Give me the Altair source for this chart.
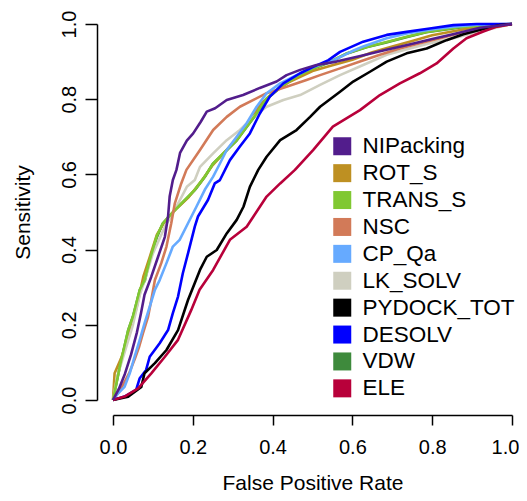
import altair as alt
import pandas as pd

METHODS = ["NIPacking", "ROT_S", "TRANS_S", "NSC", "CP_Qa", "LK_SOLV",
           "PYDOCK_TOT", "DESOLV", "VDW", "ELE"]
COLORS = ["#521D8C", "#BE9022", "#80C832", "#D27A58", "#66AAFF", "#CFCFC0",
          "#000000", "#0000FF", "#3E8A3C", "#B8003A"]
# drawing order (bottom -> top)
DRAW_ORDER = ["VDW", "ROT_S", "LK_SOLV", "TRANS_S", "NSC", "CP_Qa",
              "DESOLV", "PYDOCK_TOT", "ELE", "NIPacking"]

NIPACKING_FPR = [0, .015, .03, .045, .06, .07, .079, .096, .113, .130, .138, .142, .150, .159, .168, .185, .201, .22, .235, .256, .285, .326, .368, .41, .435, .469, .51, .56, .62, .68, .74, .80, .86, .92, 1]
NIPACKING_SENS = [0, .03, .07, .12, .18, .23, .28, .328, .381, .434, .488, .541, .585, .612, .657, .69, .709, .74, .767, .776, .798, .811, .83, .847, .864, .878, .891, .90, .915, .93, .945, .96, .975, .99, 1]

ROT_S_FPR = [0, .004, .02, .04, .06, .076, .092, .11, .13, .16, .19, .22, .25, .285, .31, .335, .368, .40, .44, .50, .55, .6, .65, .7, .75, .8, .85, .9, 1]
ROT_S_SENS = [0, .071, .11, .17, .25, .328, .38, .44, .475, .51, .54, .58, .625, .665, .695, .73, .785, .815, .845, .875, .89, .905, .925, .94, .955, .97, .98, .99, 1]

TRANS_S_FPR = [0, .017, .038, .05, .067, .079, .092, .109, .125, .155, .18, .205, .23, .251, .285, .31, .335, .36, .385, .419, .46, .502, .544, .586, .636, .686, .736, .786, .87, 1]
TRANS_S_SENS = [0, .089, .186, .222, .293, .319, .372, .434, .47, .505, .532, .559, .594, .629, .665, .691, .727, .762, .802, .833, .86, .882, .90, .922, .939, .952, .966, .979, .992, 1]

NSC_FPR = [0, .02, .04, .055, .065, .075, .088, .096, .105, .121, .134, .146, .155, .171, .184, .218, .251, .285, .318, .352, .385, .435, .485, .519, .569, .619, .669, .719, .769, .82, .87, .91, 1]
NSC_SENS = [0, .03, .07, .11, .14, .177, .222, .266, .319, .364, .408, .47, .523, .576, .612, .665, .718, .753, .78, .798, .816, .833, .851, .864, .882, .90, .918, .935, .949, .962, .976, .984, 1]

CP_QA_FPR = [0, .013, .029, .042, .054, .067, .079, .092, .105, .117, .134, .15, .167, .188, .209, .23, .251, .268, .285, .31, .335, .36, .385, .419, .46, .502, .55, .6, .627, .686, .736, .794, .853, .912, 1]
CP_QA_SENS = [0, .018, .035, .071, .115, .16, .204, .248, .293, .319, .364, .408, .426, .47, .514, .559, .594, .629, .665, .70, .736, .78, .816, .842, .864, .886, .902, .928, .94, .962, .975, .985, .993, .998, 1]

LK_SOLV_FPR = [0, .01, .03, .05, .067, .08, .10, .13, .15, .185, .205, .218, .251, .285, .318, .352, .385, .427, .469, .502, .519, .569, .627, .686, .744, .794, .853, .903, 1]
LK_SOLV_SENS = [0, .06, .13, .2, .279, .32, .39, .461, .496, .567, .585, .62, .656, .691, .718, .753, .78, .798, .811, .829, .838, .864, .891, .918, .935, .949, .962, .976, 1]

PYDOCK_FPR = [0, .038, .071, .079, .105, .134, .163, .188, .218, .235, .26, .285, .31, .327, .343, .364, .385, .419, .46, .494, .519, .569, .602, .644, .686, .736, .786, .836, .878, .928, .97, 1]
PYDOCK_SENS = [0, .009, .035, .071, .098, .133, .186, .266, .346, .381, .399, .443, .479, .514, .567, .612, .647, .691, .718, .753, .78, .82, .847, .873, .90, .922, .935, .957, .973, .987, .997, 1]

DESOLV_FPR = [0, .029, .058, .067, .083, .092, .117, .138, .15, .163, .175, .188, .205, .213, .238, .255, .268, .293, .318, .343, .368, .393, .427, .469, .502, .54, .569, .627, .686, .736, .794, .853, .912, 1]
DESOLV_SENS = [0, .009, .027, .058, .08, .115, .151, .186, .231, .275, .337, .39, .461, .488, .532, .576, .585, .638, .674, .709, .762, .807, .842, .869, .886, .904, .926, .953, .971, .979, .988, .997, 1, 1]

VDW_FPR = [0, .017, .038, .05, .067, .08, .092, .11, .125, .155, .18, .205, .23, .25, .285, .31, .335, .36, .385, .42, .46, .50, .545, .585, .635, .685, .735, .785, .87, 1]
VDW_SENS = [0, .088, .185, .222, .292, .318, .371, .433, .47, .505, .531, .558, .593, .628, .664, .69, .726, .761, .8, .832, .859, .881, .899, .921, .938, .951, .965, .978, .991, 1]

ELE_FPR = [0, .029, .063, .096, .13, .163, .196, .217, .251, .293, .335, .385, .419, .456, .502, .551, .619, .669, .719, .769, .811, .853, .886, .928, .962, 1]
ELE_SENS = [0, .009, .031, .071, .115, .16, .239, .293, .346, .426, .461, .541, .576, .612, .665, .727, .771, .811, .842, .869, .895, .935, .962, .98, .993, 1]

SERIES = {
    "NIPacking": (NIPACKING_FPR, NIPACKING_SENS),
    "ROT_S": (ROT_S_FPR, ROT_S_SENS),
    "TRANS_S": (TRANS_S_FPR, TRANS_S_SENS),
    "NSC": (NSC_FPR, NSC_SENS),
    "CP_Qa": (CP_QA_FPR, CP_QA_SENS),
    "LK_SOLV": (LK_SOLV_FPR, LK_SOLV_SENS),
    "PYDOCK_TOT": (PYDOCK_FPR, PYDOCK_SENS),
    "DESOLV": (DESOLV_FPR, DESOLV_SENS),
    "VDW": (VDW_FPR, VDW_SENS),
    "ELE": (ELE_FPR, ELE_SENS),
}

rows = []
for m, (fx, sy) in SERIES.items():
    for i, (a, b) in enumerate(zip(fx, sy)):
        rows.append({"method": m, "fpr": a, "sens": b, "idx": i})
df = pd.DataFrame(rows)

FONT = "Liberation Sans"
TICKS = [0, 0.2, 0.4, 0.6, 0.8, 1.0]
xenc = alt.X("fpr:Q", scale=alt.Scale(domain=[0, 1], nice=False),
             axis=alt.Axis(title="False Positive Rate", values=TICKS, format=".1f",
                           offset=15, tickSize=10, labelPadding=12, labelFlush=False,
                           labelOffset={"expr": "datum.value == 1 ? -7 : 0"},
                           titlePadding=15, grid=False))
yenc = alt.Y("sens:Q", scale=alt.Scale(domain=[0, 1], nice=False),
             axis=alt.Axis(title="Sensitivity", values=TICKS, format=".1f",
                           offset=16, tickSize=12, labelAngle=-90, labelFlush=False,
                           labelAlign="center", labelBaseline="bottom", labelPadding=6,
                           titlePadding=26, grid=False))

color_by_method = dict(zip(METHODS, COLORS))
stroke_scale = alt.Scale(domain=DRAW_ORDER, range=[color_by_method[m] for m in DRAW_ORDER])
base = alt.Chart(df)

layers = []
for m in DRAW_ORDER:
    layers.append(
        base.transform_filter(alt.datum.method == m)
        .mark_line(strokeWidth=2.6, strokeJoin="round")
        .encode(x=xenc, y=yenc,
                stroke=alt.Stroke("method:N", scale=stroke_scale, legend=None),
                order="idx:Q")
    )

legend_layer = base.mark_point(shape="square", filled=True, opacity=0).encode(
    x=xenc, y=yenc,
    fill=alt.Fill("method:N", scale=alt.Scale(domain=METHODS, range=COLORS),
                  legend=alt.Legend(title=None, orient="none", legendX=218, legendY=111,
                                    symbolType="square", symbolSize=324, symbolOpacity=1,
                                    symbolStrokeWidth=0, labelFontSize=22.5, labelFont=FONT,
                                    labelColor="#000000", labelOffset=9, rowPadding=3.9,
                                    labelLimit=300)),
)

chart = alt.layer(*layers, legend_layer).properties(
    width=399, height=376,
    autosize=alt.AutoSizeParams(type="none"),
    padding={"left": 105, "top": 16, "right": 7, "bottom": 93},
).configure_view(stroke=None).configure_axis(
    labelFont=FONT, titleFont=FONT, labelFontSize=20, titleFontSize=21,
    titleFontWeight="normal", labelColor="#000000", titleColor="#000000",
    domainColor="#000000", tickColor="#000000", domainWidth=1.5, tickWidth=1.5,
)

chart.save("out.html", embed_options={"renderer": "svg", "actions": False})
